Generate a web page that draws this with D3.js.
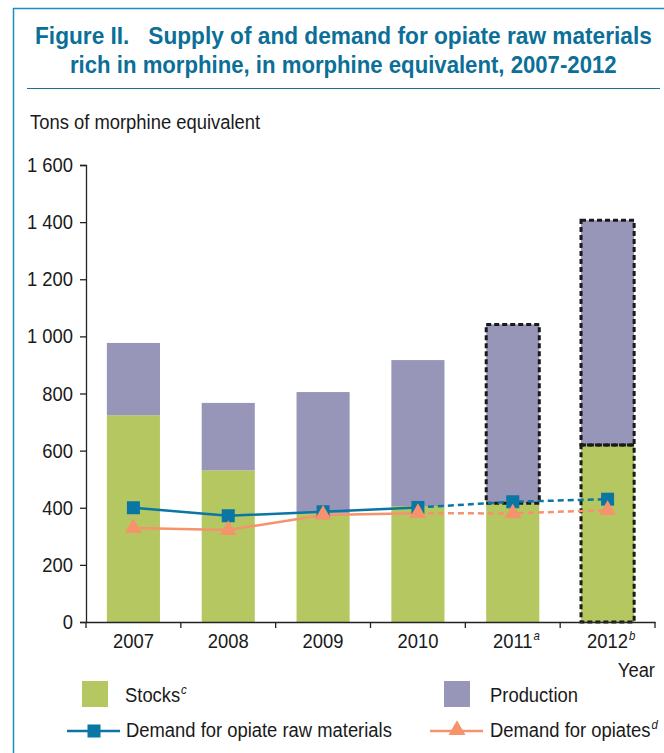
<!DOCTYPE html>
<html><head><meta charset="utf-8">
<script src="https://cdn.jsdelivr.net/npm/d3@7"></script>
<style>
html,body{margin:0;padding:0;background:#fff;}
text{font-family:"Liberation Sans",Arial,sans-serif;}
</style></head>
<body>
<svg id="c" width="664" height="753"></svg>
<script>
const years = ["2007","2008","2009","2010","2011","2012"];
const yearNotes = ["","","","","a","b"];
const stocks = [724, 531, 380, 406, 416, 620];
const production = [253, 236, 425, 511, 626, 787];
const demandRaw = [400, 372, 386, 401, 421, 430];
const demandOpiates = [329, 322, 375, 381, 380, 392];
const yTicks = [0,200,400,600,800,1000,1200,1400,1600];
const estimatedFrom = 3; // last actual year index; later values dashed

const svg = d3.select("#c");
const blue = "#0a76a3", green = "#b5c761", purple = "#9795b8", orange = "#f5936c", frame = "#1b8fbf";
const FS = 21;

// horizontal condense factor for body text
const probe = svg.append("text").attr("font-size",FS).text("Demand for opiate raw materials");
const SX = 266 / probe.node().getComputedTextLength();
probe.remove();

function label(x, y, str, opts={}){
  const t = svg.append("text").attr("transform",`translate(${x},${y}) scale(${opts.sx||SX},1)`)
    .attr("font-size",opts.size||FS).attr("fill",opts.fill||"#1a1a1a")
    .attr("text-anchor",opts.anchor||"start");
  t.append("tspan").text(str);
  if (opts.sup) t.append("tspan").attr("font-size",13).attr("font-style","italic").attr("dy",-8).attr("dx",1).text(opts.sup);
  return t;
}
function fitTitle(x, y, str, width){
  const t = svg.append("text").attr("font-size",23.5).attr("font-weight","bold").attr("fill","#0b6f98")
    .attr("text-anchor","start").text(str);
  const w = t.node().getComputedTextLength();
  t.attr("transform",`translate(${x},${y}) scale(${width/w},1)`);
}

// frame
svg.append("line").attr("x1",13.5).attr("x2",13.5).attr("y1",8).attr("y2",753).attr("stroke",frame).attr("stroke-width",1.5);
svg.append("line").attr("x1",13).attr("x2",664).attr("y1",8.5).attr("y2",8.5).attr("stroke",frame).attr("stroke-width",1.5);
svg.append("line").attr("x1",27).attr("x2",660).attr("y1",88.5).attr("y2",88.5).attr("stroke","#1a6f92").attr("stroke-width",1.2);

// title
fitTitle(35, 43.5, "Figure II.\u00a0\u00a0\u00a0Supply of and demand for opiate raw materials", 617);
fitTitle(70, 72.5, "rich in morphine, in morphine equivalent, 2007-2012", 547);

label(30, 129, "Tons of morphine equivalent");

const x = d3.scaleBand().domain(years).range([86,655]).paddingInner(0.44).paddingOuter(0.22);
const y = d3.scaleLinear().domain([0,1600]).range([622,165]);
const xc = d => x(d) + x.bandwidth()/2;

// bars
const g = svg.append("g");
years.forEach((yr,i)=>{
  g.append("rect").attr("x",x(yr)).attr("width",x.bandwidth())
    .attr("y",y(stocks[i])).attr("height",y(0)-y(stocks[i])).attr("fill",green);
  g.append("rect").attr("x",x(yr)).attr("width",x.bandwidth())
    .attr("y",y(stocks[i]+production[i])).attr("height",y(stocks[i])-y(stocks[i]+production[i])).attr("fill",purple);
});
const dashStyle = s => s.attr("fill","none").attr("stroke","#1a1a1a").attr("stroke-width",3).attr("stroke-dasharray","5,3");
dashStyle(g.append("rect").attr("x",x("2011")).attr("width",x.bandwidth())
  .attr("y",y(stocks[4]+production[4])).attr("height",y(stocks[4])-y(stocks[4]+production[4])));
dashStyle(g.append("rect").attr("x",x("2012")).attr("width",x.bandwidth())
  .attr("y",y(stocks[5]+production[5])).attr("height",y(stocks[5])-y(stocks[5]+production[5])));
dashStyle(g.append("rect").attr("x",x("2012")).attr("width",x.bandwidth())
  .attr("y",y(stocks[5])).attr("height",y(0)-y(stocks[5])));

// axes
const ya = svg.append("g").attr("transform","translate(86,0)")
  .call(d3.axisLeft(y).tickValues(yTicks).tickSize(6).tickFormat(""));
ya.select(".domain").attr("stroke","#222").attr("stroke-width",1.3);
ya.selectAll(".tick line").attr("stroke","#222").attr("stroke-width",1.3);
yTicks.forEach(v=>{
  label(73, y(v)+7, d3.format(",")(v).replace(","," "), {anchor:"end"});
});

const xa = svg.append("g").attr("transform","translate(0,622)")
  .call(d3.axisBottom(x).tickSize(0).tickFormat(""));
xa.select(".domain").attr("stroke","#222").attr("stroke-width",1.3);
const bounds = years.map(d=>x(d)-x.step()*x.paddingInner()/2).concat([x.range()[1]]);
xa.selectAll(".bt").data(bounds).enter().append("line").attr("x1",d=>d).attr("x2",d=>d)
  .attr("y1",0).attr("y2",6).attr("stroke","#222").attr("stroke-width",1.3);
years.forEach((yr,i)=>{
  const t = label(xc(yr), 648, yr, {anchor: "start", sup: yearNotes[i]});
  const digitsW = t.node().firstChild.getComputedTextLength() * SX;
  t.attr("transform", `translate(${xc(yr) - digitsW/2},648) scale(${SX},1)`);
});
label(655, 677, "Year", {anchor:"end"});

// lines
function drawSeries(vals, color){
  const pts = years.map((yr,i)=>[xc(yr), y(vals[i])]);
  const line = d3.line();
  svg.append("path").attr("d",line(pts.slice(0,estimatedFrom+1))).attr("fill","none").attr("stroke",color).attr("stroke-width",2.5);
  svg.append("path").attr("d",line(pts.slice(estimatedFrom))).attr("fill","none").attr("stroke",color).attr("stroke-width",2.5).attr("stroke-dasharray","6,4");
  return pts;
}
const pr = drawSeries(demandRaw, blue);
const po = drawSeries(demandOpiates, orange);
const sq = 13;
svg.selectAll(".sq").data(pr).enter().append("rect").attr("x",d=>d[0]-sq/2).attr("y",d=>d[1]-sq/2)
  .attr("width",sq).attr("height",sq).attr("fill",blue);
const tri = d3.symbol().type(d3.symbolTriangle).size(125);
svg.selectAll(".tr").data(po).enter().append("path").attr("d",tri)
  .attr("transform",d=>`translate(${d[0]},${d[1]})`).attr("fill",orange);

// legend
svg.append("rect").attr("x",82).attr("y",681).attr("width",26).attr("height",26).attr("fill",green);
label(125, 702, "Stocks", {sup:"c"});
svg.append("rect").attr("x",444).attr("y",681).attr("width",26).attr("height",26).attr("fill",purple);
label(490, 702, "Production");

svg.append("line").attr("x1",67).attr("x2",120).attr("y1",731).attr("y2",731).attr("stroke",blue).attr("stroke-width",2.5);
svg.append("rect").attr("x",94-sq/2).attr("y",731-sq/2).attr("width",sq).attr("height",sq).attr("fill",blue);
label(126, 737, "Demand for opiate raw materials");
svg.append("line").attr("x1",430).attr("x2",483).attr("y1",731).attr("y2",731).attr("stroke",orange).attr("stroke-width",2.5);
svg.append("path").attr("d",tri).attr("transform","translate(457,730)").attr("fill",orange);
label(490, 737, "Demand for opiates", {sup:"d"});
</script>
</body></html>
